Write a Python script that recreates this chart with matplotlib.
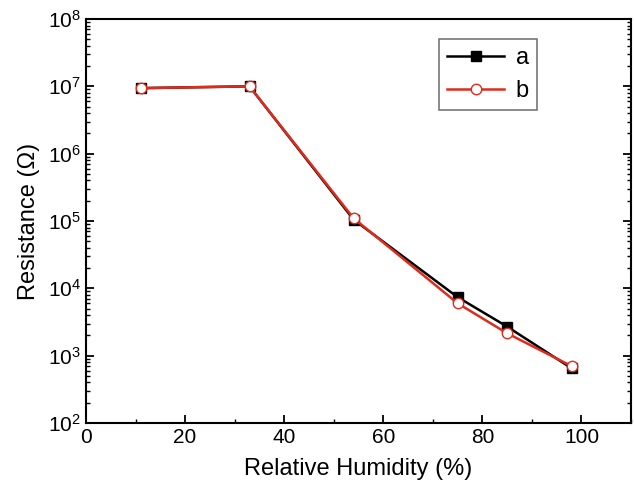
import numpy as np
import matplotlib.pyplot as plt
from matplotlib.ticker import LogLocator, MultipleLocator, NullFormatter

plt.rcParams['font.family'] = ['Liberation Sans', 'DejaVu Sans']

humidity = [11, 33, 54, 75, 85, 98]
res_a = [9.4e6, 1.0e7, 1.05e5, 7.4e3, 2.7e3, 650]
res_b = [9.4e6, 1.0e7, 1.1e5, 6.0e3, 2.15e3, 700]

fig = plt.figure(figsize=(6.34, 4.88), dpi=100)
ax = fig.add_axes([86 / 634, 65 / 488, 545 / 634, 404 / 488])

ax.plot(humidity, res_a, color='black', lw=1.8, marker='s', ms=6.5,
        mfc='black', mec='black', label='a')
ax.plot(humidity, res_b, color='#e02b1c', lw=1.8, marker='o', ms=7.5,
        mfc='white', mec='#e02b1c', mew=1.0, label='b')

ax.set_yscale('log')
ax.set_xlim(0, 110)
ax.set_ylim(1e2, 1e8)
ax.xaxis.set_major_locator(MultipleLocator(20))
ax.xaxis.set_minor_locator(MultipleLocator(10))
ax.yaxis.set_major_locator(LogLocator(base=10, numticks=10))
ax.yaxis.set_minor_locator(LogLocator(base=10, subs=np.arange(2, 10), numticks=10))
ax.yaxis.set_minor_formatter(NullFormatter())

ax.tick_params(axis='both', which='major', direction='in', length=6, width=1.3, labelsize=15)
ax.tick_params(axis='both', which='minor', direction='in', length=3, width=1.0)
ax.tick_params(axis='y', which='both', right=True)
for s in ax.spines.values():
    s.set_linewidth(1.5)

ax.set_xlabel('Relative Humidity (%)', fontsize=17, labelpad=8)
ax.set_ylabel('Resistance (\u03a9)', fontsize=17, labelpad=6)

leg = ax.legend(loc='upper left', bbox_to_anchor=(0.648, 0.95), fontsize=17,
                frameon=True, fancybox=False, edgecolor='#555555',
                handlelength=2.4, handletextpad=0.5, borderpad=0.35,
                labelspacing=0.45, borderaxespad=0)
leg.get_frame().set_linewidth(1.2)

fig.savefig('out.png', dpi=100)
